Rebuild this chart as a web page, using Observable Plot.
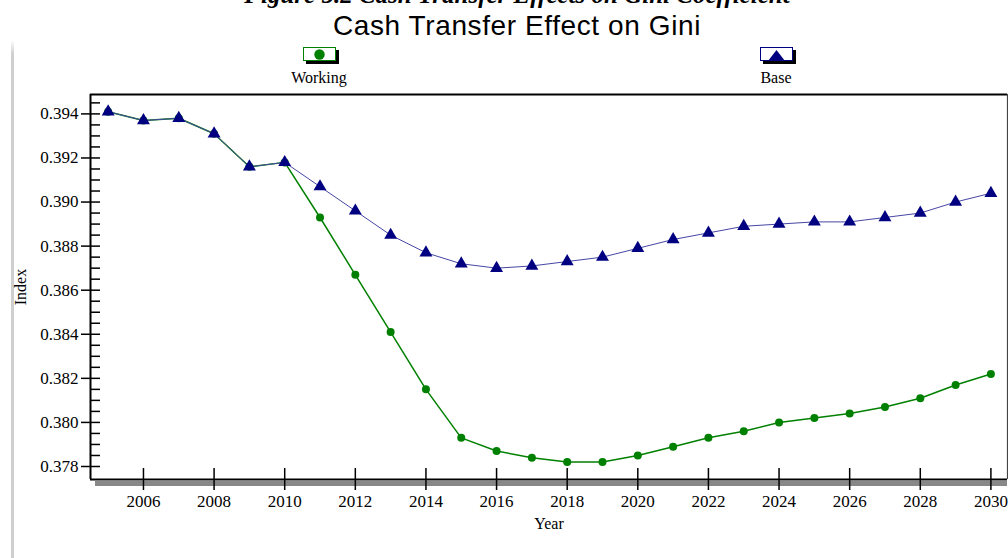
<!DOCTYPE html>
<html>
<head>
<meta charset="utf-8">
<script src="https://cdn.jsdelivr.net/npm/d3@7"></script>
<script src="https://cdn.jsdelivr.net/npm/@observablehq/plot@0.6"></script>
<style>
  html, body { margin: 0; padding: 0; background: #fff; }
  #page { position: relative; width: 1008px; height: 558px; overflow: hidden; font-family: "Liberation Serif", "Times New Roman", serif; color: #000; }
  #chart { position: absolute; left: 0; top: 0; }
  .edge { position: absolute; left: 11px; top: 40px; width: 3px; height: 520px; background: linear-gradient(to bottom, #fff, #cfcfcf 14px, #cfcfcf); }
  #fig { position: absolute; left: 0; width: 1034px; top: -18px; text-align: center; font: italic bold 25px/25px "Liberation Serif", serif; white-space: nowrap; }
  #title { position: absolute; left: 0; width: 1034px; top: 12px; text-align: center; font: 28px/28px "Liberation Sans", Arial, sans-serif; letter-spacing: 0.6px; white-space: nowrap; }
  .key { position: absolute; top: 47px; width: 80px; text-align: center; }
  .key .box { position: relative; margin: 0 auto; width: 31px; height: 12px; background: #fff; box-shadow: 3px 3px 0 #000; }
  .key .lab { position: absolute; left: 0; width: 80px; top: 23px; font: 16px/16px "Liberation Serif", serif; }
  .key svg { position: absolute; left: 0; top: 0; }
</style>
</head>
<body>
<div id="page">
  <div class="edge"></div>
  <div id="chart"></div>
  <div id="fig">Figure 5.2 Cash Transfer Effects on Gini Coefficient</div>
  <div id="title">Cash Transfer Effect on Gini</div>
  <div class="key" id="key-working" style="left:279px">
    <div class="box" style="border:1.5px solid #008000">
      <svg width="31" height="12"><circle cx="15.5" cy="6.5" r="5.2" fill="#008000"/></svg>
    </div>
    <div class="lab">Working</div>
  </div>
  <div class="key" id="key-base" style="left:736px">
    <div class="box" style="border:1.5px solid #000080">
      <svg width="31" height="12"><polygon points="7,13 15.5,2 24,13" fill="#000080"/></svg>
    </div>
    <div class="lab">Base</div>
  </div>
</div>
<script>
// Gini index by year, with and without the cash transfer
const years = [2005, 2006, 2007, 2008, 2009, 2010, 2011, 2012, 2013, 2014, 2015, 2016, 2017,
               2018, 2019, 2020, 2021, 2022, 2023, 2024, 2025, 2026, 2027, 2028, 2029, 2030];
const working = [0.3941, 0.3937, 0.3938, 0.3931, 0.3916, 0.3918, 0.3893, 0.3867, 0.3841, 0.3815,
                 0.3793, 0.3787, 0.3784, 0.3782, 0.3782, 0.3785, 0.3789, 0.3793, 0.3796, 0.3800,
                 0.3802, 0.3804, 0.3807, 0.3811, 0.3817, 0.3822];
const base = [0.3941, 0.3937, 0.3938, 0.3931, 0.3916, 0.3918, 0.3907, 0.3896, 0.3885, 0.3877,
              0.3872, 0.3870, 0.3871, 0.3873, 0.3875, 0.3879, 0.3883, 0.3886, 0.3889, 0.3890,
              0.3891, 0.3891, 0.3893, 0.3895, 0.3900, 0.3904];

// Axis ticks
const yTicks = [0.378, 0.380, 0.382, 0.384, 0.386, 0.388, 0.390, 0.392, 0.394];
const yMinor = d3.range(0, 34).map(i => +(0.378 + i * 0.0005).toFixed(4));
const xTicks = [2006, 2008, 2010, 2012, 2014, 2016, 2018, 2020, 2022, 2024, 2026, 2028, 2030];

const xDomain = [2004.5, 2030.47];
const yDomain = [0.37741, 0.39488];

const rows = years.map((year, i) => ({year, working: working[i], base: base[i]}));

const chart = Plot.plot({
  width: 1008,
  height: 558,
  marginLeft: 90,
  marginRight: 1,
  marginTop: 94,
  marginBottom: 79,
  x: {domain: xDomain},
  y: {domain: yDomain},
  style: {fontFamily: "Liberation Serif, serif", fontSize: "17px", color: "#000", background: "transparent", overflow: "visible"},
  marks: [
    // drop shadow under the bottom of the frame
    Plot.ruleY([yDomain[0]], {stroke: "#888", strokeWidth: 5, dy: 4, insetLeft: 5}),
    // series
    Plot.lineY(rows, {x: "year", y: "working", stroke: "#008000", strokeWidth: 1.5}),
    Plot.dot(rows, {x: "year", y: "working", r: 4, fill: "#008000"}),
    Plot.lineY(rows, {x: "year", y: "base", stroke: "#4646a6", strokeWidth: 1}),
    Plot.dot(rows, {x: "year", y: "base", symbol: "triangle", r: 4.8, fill: "#000080"}),
    // y axis: inner minor ticks, outer major ticks with labels
    Plot.axisY(yMinor, {tickSize: 10, dx: 10, tickFormat: () => "", label: null, strokeWidth: 1.5}),
    Plot.axisY(yTicks, {tickSize: 9, tickPadding: 3, tickFormat: d3.format(".3f"), label: null, strokeWidth: 1.5, fontSize: 17}),
    // x axis: ticks crossing the baseline
    Plot.axisX(xTicks, {tickSize: 11, dy: -11, tickFormat: () => "", label: null, strokeWidth: 1.5}),
    Plot.axisX(xTicks, {tickSize: 11, tickPadding: 4, tickFormat: d => String(d), label: null, strokeWidth: 1.5, fontSize: 17}),
    // frame
    Plot.ruleX([xDomain[0]], {stroke: "#000", strokeWidth: 2}),
    Plot.ruleY([yDomain[1]], {stroke: "#000", strokeWidth: 2}),
    Plot.ruleY([yDomain[0]], {stroke: "#000", strokeWidth: 2}),
    Plot.ruleX([xDomain[1]], {stroke: "#444", strokeWidth: 1.2}),
    // axis titles
    Plot.text(["Index"], {frameAnchor: "left", rotate: -90, dx: -70, textAnchor: "middle", lineAnchor: "middle", fontSize: 16}),
    Plot.text(["Year"], {frameAnchor: "bottom", dy: 44, textAnchor: "middle", lineAnchor: "middle", fontSize: 16})
  ]
});

document.getElementById("chart").appendChild(chart);
</script>
</body>
</html>
